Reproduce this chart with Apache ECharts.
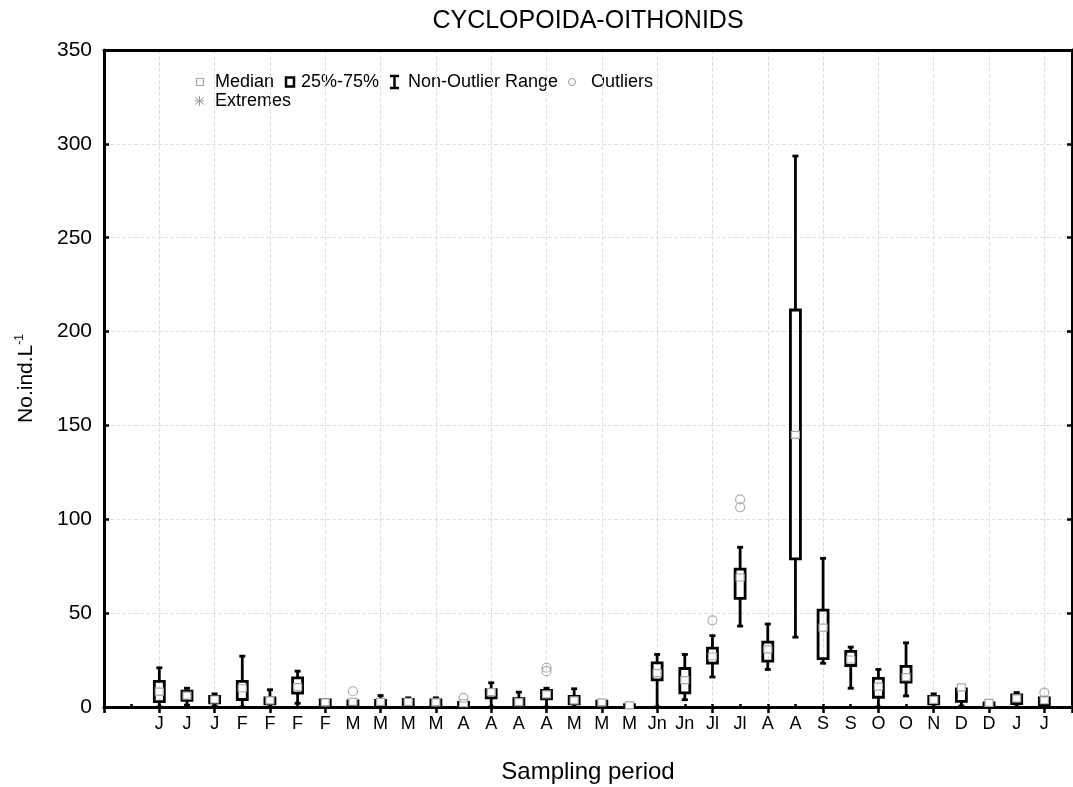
<!DOCTYPE html>
<html><head><meta charset="utf-8">
<script src="https://cdn.jsdelivr.net/npm/echarts@6/dist/echarts.min.js"></script>
<style>html,body{margin:0;padding:0;background:#fff}#c{width:1073px;height:787px}</style>
</head><body><div id="c"></div>
<script>
// ---- data ----
const categories = ['J','J','J','F','F','F','F','M','M','M','M','A','A','A','A','M','M','M','Jn','Jn','Jl','Jl','A','A','S','S','O','O','N','D','D','J','J'];
const mins    = [0,   1,   0.5, 0,   0,   2,   0,   0,   0,   0,   0,   0,   0,   0,   0,   0,   0,   0,   0,    3.9, 16,  43.1, 20,   37.2, 23.3, 10,   0,    5.9,  0,   0.5, 0,   0,   0];
const q1s     = [2.9, 3.5, 2.2, 4,   1.7, 7.4, 0.8, 0.5, 0.8, 1,   0.7, 0.3, 4.9, 0.9, 4.4, 1.7, 0.9, 0.3, 14.5, 7.5, 23.4, 57.9, 24.4, 78.9, 25.8, 22.1, 5.2,  13.2, 1.7, 3,   0.5, 1.8, 0.8];
const medians = [8.2, 6.1, 4,   10,  3.5, 10.6,2.5, 2.8, 2.7, 2.7, 2.5, 2,   7.9, 2.6, 6.7, 3.5, 2.5, 0.9, 18,   14.3,26.9, 69,   30.7, 145,  42.3, 25.3, 10.9, 15.9, 3.8, 10.5,2.2, 4.6, 3.6];
const q3s     = [13.6,8.4, 5.6, 13.7,4.9, 15.5,3.8, 3.3, 3.5, 4,   3.8, 2.4, 9.2, 4.4, 8.8, 5.6, 3.1, 1.2, 23.5, 20.5,31.4, 73.5, 34.6, 211.5,51.6, 29.6, 15.3, 21.6, 5.6, 9.7, 2.2, 6.4, 4.8];
const maxs    = [20.9,10,  7,   27.1,9.2, 19.1,4,   3.8, 6.1, 4.9, 4.9, 2.8, 12.9,7.9, 10,  9.7, 3.2, 1.5, 28,   28,  38,   85.1, 44.2, 293.5,79.2, 31.9, 20,   34.2, 7,   9.7, 2.2, 7.7, 5.2];
const outlierCat = [8, 12, 15, 15, 21, 22, 22, 33];           // 1-based position in categories
const outlierVal = [8.4, 4.9, 20.9, 19.1, 46.2, 106.4, 110.6, 7.7];
const yTicks = [0, 50, 100, 150, 200, 250, 300, 350];
const titleText = 'CYCLOPOIDA-OITHONIDS';
const xName = 'Sampling period';
const legendLabels = ['Median', '25%-75%', 'Non-Outlier Range', 'Outliers', 'Extremes'];

// ---- build axis / series data ----
const LEAD = 2;
const axisCats = ['', ''].concat(categories, ['']);
const boxData = categories.map((c, i) => [i + LEAD, mins[i], q1s[i], medians[i], q3s[i], maxs[i]]);
const outData = outlierCat.map((c, k) => [c - 1 + LEAD, outlierVal[k]]);

const FONT = '"Liberation Sans", Arial, Helvetica, sans-serif';
const LW = 2.8;

function renderBox(params, api) {
  const x = api.value(0);
  const pMin = api.coord([x, api.value(1)]);
  const pQ1 = api.coord([x, api.value(2)]);
  const pMed = api.coord([x, api.value(3)]);
  const pQ3 = api.coord([x, api.value(4)]);
  const pMax = api.coord([x, api.value(5)]);
  const cx = pMin[0];
  const bw = 10, cw = 6, mw = 8, mh = 7;
  const ls = { stroke: '#000', lineWidth: LW };
  return {
    type: 'group',
    children: [
      { type: 'line', shape: { x1: cx, y1: pQ3[1], x2: cx, y2: pMax[1] }, style: ls },
      { type: 'line', shape: { x1: cx, y1: pMin[1], x2: cx, y2: pQ1[1] }, style: ls },
      { type: 'line', shape: { x1: cx - cw / 2, y1: pMax[1], x2: cx + cw / 2, y2: pMax[1] }, style: ls },
      { type: 'line', shape: { x1: cx - cw / 2, y1: pMin[1], x2: cx + cw / 2, y2: pMin[1] }, style: ls },
      { type: 'rect', shape: { x: cx - bw / 2, y: pQ3[1], width: bw, height: pQ1[1] - pQ3[1] }, style: { fill: 'rgba(0,0,0,0)', stroke: '#000', lineWidth: LW } },
      { type: 'rect', shape: { x: cx - mw / 2, y: pMed[1] - mh / 2, width: mw, height: mh }, style: { fill: '#fff', stroke: '#a8a8a8', lineWidth: 1.2 } }
    ]
  };
}

const chart = echarts.init(document.getElementById('c'), null, { renderer: 'canvas' });

const legendY1 = 82, legendY2 = 101;
const txt = (x, y, s) => ({ type: 'text', x: x, y: y, style: { text: s, font: '18px ' + FONT, fill: '#000', textVerticalAlign: 'middle' } });
const gl = (x1, y1, x2, y2, color, w) => ({ type: 'line', shape: { x1, y1, x2, y2 }, style: { stroke: color, lineWidth: w } });

const option = {
  animation: false,
  textStyle: { fontFamily: FONT },
  grid: { left: 104, right: 1, top: 50, bottom: 80, show: false, containLabel: false, outerBoundsMode: 'none' },
  xAxis: [{
    type: 'category', data: axisCats, boundaryGap: false,
    name: xName, nameLocation: 'middle', nameGap: 53,
    nameTextStyle: { fontSize: 24, color: '#000', fontFamily: FONT },
    axisLine: { lineStyle: { color: '#000', width: 3 } },
    axisTick: { interval: 1, length: 6, lineStyle: { color: '#000', width: 2.5 } },
    axisLabel: { interval: 0, fontSize: 18, color: '#000', margin: 8, fontFamily: FONT },
    splitLine: { show: true, interval: 1, lineStyle: { type: 'dashed', color: '#e0e0e0', width: 1 } }
  }, {
    type: 'category', data: axisCats, boundaryGap: false, position: 'bottom',
    axisLine: { show: false },
    axisTick: { interval: 0, inside: true, length: 3, lineStyle: { color: '#000', width: 2.5 } },
    axisLabel: { show: false }, splitLine: { show: false }
  }, {
    type: 'category', data: axisCats, boundaryGap: false, position: 'top',
    axisLine: { show: true, lineStyle: { color: '#000', width: 3 } },
    axisTick: { show: false }, axisLabel: { show: false }, splitLine: { show: false }
  }],
  yAxis: [{
    type: 'value', min: yTicks[0], max: yTicks[yTicks.length - 1], interval: yTicks[1] - yTicks[0],
    name: '{a|No.ind.L}{s|-1}', nameLocation: 'middle', nameGap: 66, nameRotate: 90,
    nameTextStyle: { color: '#000', rich: { a: { fontSize: 21, fontFamily: FONT, color: '#000' }, s: { fontSize: 12, fontFamily: FONT, color: '#000', padding: [0, 0, 12, 0] } } },
    axisLine: { show: true, lineStyle: { color: '#000', width: 3 } },
    axisTick: { show: true, inside: true, length: 5, lineStyle: { color: '#000', width: 2.5 } },
    axisLabel: { fontSize: 21, color: '#000', margin: 12, fontFamily: FONT },
    splitLine: { show: true, showMinLine: false, showMaxLine: false, lineStyle: { type: 'dashed', color: '#e0e0e0', width: 1 } }
  }, {
    type: 'value', position: 'right', min: yTicks[0], max: yTicks[yTicks.length - 1], interval: yTicks[1] - yTicks[0],
    axisLine: { show: true, lineStyle: { color: '#000', width: 3 } },
    axisTick: { show: true, inside: true, length: 5, lineStyle: { color: '#000', width: 2.5 } },
    axisLabel: { show: false }, splitLine: { show: false }
  }],
  series: [{
    type: 'custom', name: 'box', renderItem: renderBox, data: boxData,
    encode: { x: 0, y: [1, 2, 3, 4, 5] }, clip: false, z: 3
  }, {
    type: 'scatter', name: 'outliers', data: outData, symbol: 'circle', symbolSize: 9,
    itemStyle: { color: 'rgba(0,0,0,0)', borderColor: '#999', borderWidth: 1.2 }, z: 4
  }],
  graphic: [
    { type: 'text', x: 588, y: 21, style: { text: titleText, font: '25px ' + FONT, fill: '#000', textAlign: 'center', textVerticalAlign: 'middle' } },
    // legend row 1
    { type: 'rect', shape: { x: 196.5, y: legendY1 - 3.5, width: 7, height: 7 }, style: { fill: '#fff', stroke: '#a8a8a8', lineWidth: 1.2 } },
    txt(215, legendY1, legendLabels[0]),
    { type: 'rect', shape: { x: 286, y: legendY1 - 4.5, width: 8, height: 9 }, style: { fill: 'none', stroke: '#000', lineWidth: 2.5 } },
    txt(301, legendY1, legendLabels[1]),
    gl(394.5, legendY1 - 6, 394.5, legendY1 + 6, '#000', 2.5),
    gl(390, legendY1 - 6, 399, legendY1 - 6, '#000', 2.5),
    gl(390, legendY1 + 6, 399, legendY1 + 6, '#000', 2.5),
    txt(408, legendY1, legendLabels[2]),
    { type: 'circle', shape: { cx: 572, cy: legendY1, r: 3.5 }, style: { fill: 'none', stroke: '#999', lineWidth: 1 } },
    txt(591, legendY1, legendLabels[3]),
    // legend row 2
    gl(199.5, legendY2 - 5, 199.5, legendY2 + 5, '#999', 1),
    gl(195, legendY2 - 3.5, 204, legendY2 + 3.5, '#999', 1),
    gl(195, legendY2 + 3.5, 204, legendY2 - 3.5, '#999', 1),
    gl(195, legendY2, 204, legendY2, '#999', 1),
    txt(215, legendY2, legendLabels[4])
  ]
};
chart.setOption(option);
</script>
</body></html>
